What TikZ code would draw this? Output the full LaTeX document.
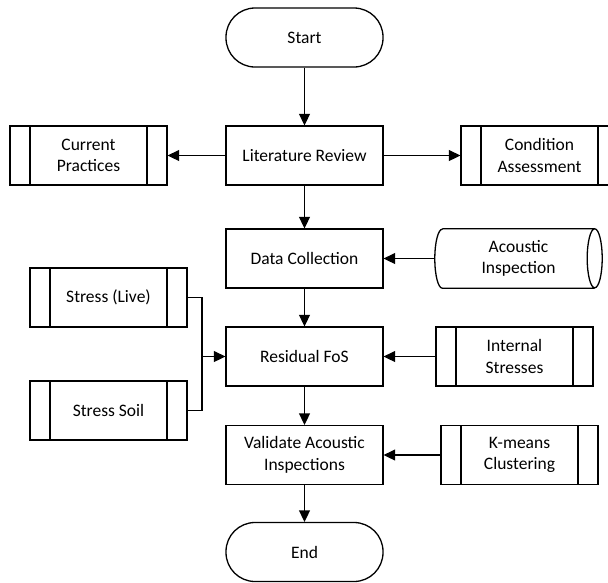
\documentclass[tikz,border=0pt]{standalone}
\usepackage{fontspec}
\setmainfont{Carlito}
\usetikzlibrary{arrows.meta}
\begin{document}
\begin{tikzpicture}[x=1pt,y=-1pt,
  every node/.style={font=\fontsize{17.5}{21.5}\selectfont, align=center, inner sep=0pt},
  box/.style={draw, line width=1.3pt, minimum width=157pt, minimum height=59pt},
  term/.style={box, rounded corners=29pt},
  proc/.style={box, path picture={
     \draw[line width=1.3pt] ([xshift=20pt]path picture bounding box.north west) -- ([xshift=20pt]path picture bounding box.south west);
     \draw[line width=1.3pt] ([xshift=-20pt]path picture bounding box.north east) -- ([xshift=-20pt]path picture bounding box.south east);}},
  arr/.style={line width=1.3pt, -{Triangle[length=11.5pt,width=11pt]}},
  ln/.style={line width=1.3pt}]
\useasboundingbox (0,0) rectangle (608,582);
\node[term] (start) at (304.5,37.5) {Start};
\node[box] (lit) at (304.5,155.5) {Literature Review};
\node[proc] (cur) at (88.5,155.5) {Current\\Practices};
\node[proc] (cond) at (539.5,155.5) {Condition\\Assessment};
\node[box] (data) at (304.5,258.5) {Data Collection};
\node[minimum width=167pt, minimum height=59pt] (aco) at (518.5,258.5) {Acoustic\\Inspection};
\draw[ln] ([xshift=7.5pt]aco.north west) -- ([xshift=-7.5pt]aco.north east)
   arc[start angle=90, end angle=-270, x radius=7.5pt, y radius=29.5pt]
   ([xshift=-7.5pt]aco.south east) -- ([xshift=7.5pt]aco.south west)
   arc[start angle=270, end angle=90, x radius=7.5pt, y radius=29.5pt];
\node[box] (res) at (304.5,356.5) {Residual FoS};
\node[proc] (live) at (108.5,297.5) {Stress (Live)};
\node[proc] (soil) at (108.5,410.5) {Stress Soil};
\node[proc] (int) at (514.5,356.5) {Internal\\Stresses};
\node[box] (val) at (304.5,455) {Validate Acoustic\\Inspections};
\node[proc] (km) at (519.5,455) {K-means\\Clustering};
\node[term] (end) at (304.5,552) {End};
\coordinate (j) at (202,356.5);
\draw[arr] (start) -- (lit);
\draw[arr] (lit) -- (cur);
\draw[arr] (lit) -- (cond);
\draw[arr] (lit) -- (data);
\draw[arr] (aco.west) -- (data.east);
\draw[arr] (data) -- (res);
\draw[ln] (live.east) -| (j) |- (soil.east);
\draw[arr] (j) -- (res.west);
\draw[arr] (int) -- (res);
\draw[arr] (res) -- (val);
\draw[arr] (km) -- (val);
\draw[arr] (val) -- (end);
\end{tikzpicture}
\end{document}
